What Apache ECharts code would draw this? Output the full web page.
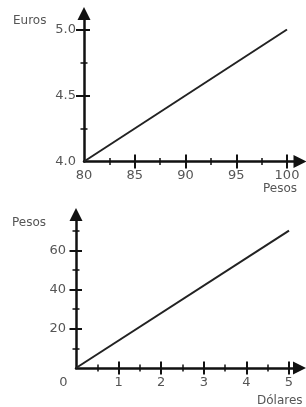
<!DOCTYPE html>
<html>
<head>
<meta charset="utf-8">
<script src="https://cdn.jsdelivr.net/npm/echarts@6.0.0/dist/echarts.min.js"></script>
<style>
  html, body { margin: 0; padding: 0; background: #fff; }
  #chart { width: 306px; height: 407px; }
</style>
</head>
<body>
<div id="chart"></div>
<script>
(function () {
  'use strict';

  // Top chart: pesos -> euros
  var pesosX = [80, 100];
  var eurosY = [4.0, 5.0];
  var topXLabels = [80, 85, 90, 95, 100];
  var topXTicks = [85, 90, 95, 100];
  var topYLabels = [4.0, 4.5, 5.0];
  var topYTicks = [4.5, 5.0];

  // Bottom chart: dolares -> pesos
  var dolaresX = [0, 5];
  var pesosY = [0, 70];
  var botXLabels = [0, 1, 2, 3, 4, 5];
  var botXTicks = [1, 2, 3, 4, 5];
  var botYLabels = [20, 40, 60];
  var botYTicks = [20, 40, 60];

  var FONT = '"DejaVu Sans", Verdana, sans-serif';
  var TXT = '#555';
  var AXIS = '#111';

  var chart = echarts.init(document.getElementById('chart'), null, { renderer: 'canvas' });

  function pairs(xs, ys) {
    return xs.map(function (x, i) { return [x, ys[i]]; });
  }

  // one axis draws labels + outward ticks, a twin draws inward ticks -> crossing ticks
  function tickAxis(base, inside, len, customTicks, labelOpt) {
    return Object.assign({
      type: 'value',
      axisLine: { show: false },
      splitLine: { show: false },
      axisTick: {
        show: true, inside: inside, length: len, customValues: customTicks,
        lineStyle: { color: AXIS, width: 2 }
      },
      minorTick: {
        show: true, splitNumber: 2, length: 3.5,
        lineStyle: { color: AXIS, width: 1.5 }
      },
      axisLabel: labelOpt || { show: false }
    }, base);
  }

  function arrowAxis(gridIndex, pos) {
    return {
      type: 'value', gridIndex: gridIndex, position: pos, min: 0, max: 1,
      axisLine: {
        show: true, symbol: ['none', 'triangle'], symbolSize: [13, 13],
        lineStyle: { color: AXIS, width: 2.5 }
      },
      axisTick: { show: false }, axisLabel: { show: false }, splitLine: { show: false }
    };
  }

  var labelBase = { color: TXT, fontFamily: FONT, fontSize: 13 };

  var option = {
    animation: false,
    backgroundColor: '#fff',
    title: [
      { text: 'Euros', left: 13, top: 15 },
      { text: 'Pesos', left: 263, top: 183 },
      { text: 'Pesos', left: 12, top: 217 },
      { text: 'Dólares', left: 257, top: 395 }
    ].map(function (t) {
      t.padding = 0;
      t.textStyle = { color: TXT, fontFamily: FONT, fontSize: 12, fontWeight: 'normal' };
      return t;
    }),
    grid: [
      { left: 84, top: 29.5, width: 203, height: 132 },
      { left: 84, top: 13.5, width: 216, height: 148 },
      { left: 76, top: 211, width: 213, height: 157 },
      { left: 76, top: 214.5, width: 223.5, height: 153.5 }
    ],
    xAxis: [
      tickAxis({ gridIndex: 0, position: 'bottom', min: 80, max: 100, interval: 5 }, false, 7, topXTicks,
        Object.assign({ margin: 8, customValues: topXLabels }, labelBase)),
      tickAxis({ gridIndex: 0, position: 'bottom', min: 80, max: 100, interval: 5 }, true, 7, topXTicks),
      arrowAxis(1, 'bottom'),
      tickAxis({ gridIndex: 2, position: 'bottom', min: 0, max: 5, interval: 1 }, false, 6.5, botXTicks,
        Object.assign({
          margin: 8, customValues: botXLabels,
          formatter: function (v) { return v === 0 ? '{z|0}' : String(v); },
          rich: { z: { padding: [0, 25, 0, 0], color: TXT, fontFamily: FONT, fontSize: 13 } }
        }, labelBase)),
      tickAxis({ gridIndex: 2, position: 'bottom', min: 0, max: 5, interval: 1 }, true, 6.5, botXTicks),
      arrowAxis(3, 'bottom')
    ],
    yAxis: [
      tickAxis({ gridIndex: 0, position: 'left', min: 4.0, max: 5.0, interval: 0.5 }, false, 8, topYTicks,
        Object.assign({ margin: 8, customValues: topYLabels,
          formatter: function (v) { return v.toFixed(1); } }, labelBase)),
      tickAxis({ gridIndex: 0, position: 'left', min: 4.0, max: 5.0, interval: 0.5 }, true, 6, topYTicks),
      arrowAxis(1, 'left'),
      tickAxis({ gridIndex: 2, position: 'left', min: 0, max: 80, interval: 20 }, false, 6.5, botYTicks,
        Object.assign({ margin: 10, customValues: botYLabels }, labelBase)),
      tickAxis({ gridIndex: 2, position: 'left', min: 0, max: 80, interval: 20 }, true, 6, botYTicks),
      arrowAxis(3, 'left')
    ],
    series: [
      {
        type: 'line', xAxisIndex: 0, yAxisIndex: 0,
        data: pairs(pesosX, eurosY),
        showSymbol: false, silent: true,
        lineStyle: { color: '#222', width: 2 }
      },
      {
        type: 'line', xAxisIndex: 3, yAxisIndex: 3,
        data: pairs(dolaresX, pesosY),
        showSymbol: false, silent: true,
        lineStyle: { color: '#222', width: 2 }
      }
    ]
  };

  chart.setOption(option);
})();
</script>
</body>
</html>
